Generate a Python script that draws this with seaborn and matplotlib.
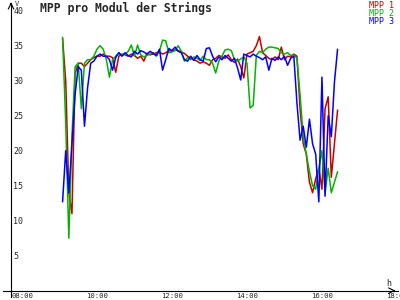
import numpy as np
import pandas as pd
import matplotlib
matplotlib.use("Agg")
import matplotlib.pyplot as plt
import seaborn as sns

# time of day in hours, 5-minute samples from 09:15 to 16:35
start_hour = 9.25
step_hours = 5 / 60

mpp1 = [36.0, 30.0, 14.0, 11.0, 31.0, 32.5, 32.5, 32.0, 32.5, 33.0,
        33.3, 33.5, 33.5, 33.8, 33.5, 33.5, 33.3, 31.2, 33.5, 33.8,
        33.7, 33.5, 33.8, 33.6, 33.2, 33.5, 32.8, 33.9, 33.7, 33.8,
        34.0, 34.1, 33.8, 34.0, 34.3, 34.2, 34.4, 34.3, 34.1, 33.9,
        33.5, 33.2, 33.0, 32.8, 32.5, 32.7, 32.5, 32.2, 33.0, 33.2,
        33.6, 33.4, 33.2, 33.7, 33.0, 32.6, 33.1, 32.0, 30.4, 33.8,
        34.0, 34.2, 35.0, 36.3, 34.0, 33.6, 33.2, 33.0, 33.4, 33.0,
        34.8, 33.0, 33.5, 33.4, 33.8, 33.5, 26.0, 21.0, 19.5, 15.5,
        14.0, 16.0, 17.5, 14.5, 26.0, 27.7, 16.2, 21.0, 25.8]
mpp2 = [36.2, 24.0, 7.5, 22.0, 32.0, 32.5, 26.0, 32.5, 33.0, 33.0,
        33.5, 34.5, 35.0, 34.5, 33.0, 30.5, 33.0, 33.5, 34.0, 33.6,
        33.8, 34.2, 35.1, 33.5, 35.1, 33.7, 33.4, 33.6, 33.8, 34.0,
        33.5, 34.2, 35.8, 35.7, 34.0, 34.1, 34.3, 35.0, 34.2, 32.8,
        33.3, 33.0, 33.4, 33.2, 32.9, 33.5, 33.0, 33.0, 32.5, 31.1,
        32.8, 33.5, 34.4, 34.5, 34.3, 33.0, 32.8, 33.1, 33.4, 32.5,
        26.1, 26.5, 33.6, 34.2, 34.0, 34.5, 34.8, 34.8, 34.7, 34.6,
        34.0, 33.8, 34.0, 33.6, 33.7, 33.2, 28.0, 22.0, 19.5, 17.0,
        15.0, 14.5, 17.5, 20.0, 14.0, 17.5, 14.0, 15.5, 17.0]
mpp3 = [12.7, 20.0, 14.0, 21.0, 28.0, 32.0, 31.5, 23.5, 29.0, 32.5,
        32.8, 33.5, 33.8, 33.5, 33.5, 33.0, 31.5, 33.3, 34.0, 33.5,
        34.0, 33.6, 33.4, 34.2, 33.8, 34.3, 34.1, 33.8, 34.2, 33.9,
        33.6, 34.5, 31.5, 33.0, 34.6, 34.3, 34.8, 34.2, 34.0, 33.0,
        32.8, 33.5, 32.9, 33.6, 33.0, 32.8, 34.6, 34.7, 33.5, 32.7,
        33.4, 33.0, 33.6, 33.2, 32.8, 33.2, 31.8, 30.1, 33.8, 33.6,
        33.4, 33.8, 33.5, 33.3, 33.0, 33.4, 31.5, 33.2, 32.9, 33.4,
        33.0, 33.5, 32.2, 33.2, 33.5, 26.8, 21.5, 23.5, 20.5, 24.5,
        21.0, 19.5, 12.7, 30.5, 13.5, 25.0, 22.0, 29.8, 34.5]

series_names = ["MPP 1", "MPP 2", "MPP 3"]
colors = ["#c80000", "#00b400", "#0000ff"]
x_tick_hours = [8, 10, 12, 14, 16, 18]
x_tick_labels = ["08:00", "10:00", "12:00", "14:00", "16:00", "18:00"]
y_ticks = [5, 10, 15, 20, 25, 30, 35, 40]
title = "MPP pro Modul der Strings"

hours = start_hour + step_hours * np.arange(len(mpp1))
df = pd.concat([
    pd.DataFrame({"hour": hours, "value": vals, "series": name})
    for name, vals in zip(series_names, [mpp1, mpp2, mpp3])
])

sns.set_style("white")
plt.rcParams["font.family"] = ["DejaVu Sans Mono", "DejaVu Sans"]

fig = plt.figure(figsize=(4, 3), dpi=100)
ax = fig.add_axes([3 / 400, 3 / 300, 395 / 400, 294 / 300])

sns.lineplot(data=df, x="hour", y="value", hue="series",
             palette=colors, linewidth=1.1, legend=False, ax=ax,
             estimator=None)

ax.set_xlim(7.661, 18.195)
ax.set_ylim(-0.9, 41.1)
ax.set_xlabel("")
ax.set_ylabel("")
for s in ["top", "right"]:
    ax.spines[s].set_visible(False)
ax.spines["left"].set_position(("data", 7.875))
ax.spines["bottom"].set_position(("data", 0))
for s in ["left", "bottom"]:
    ax.spines[s].set_color("black")
    ax.spines[s].set_linewidth(0.8)

ax.set_xticks(x_tick_hours)
ax.set_xticklabels([])
ax.tick_params(axis="x", direction="inout", length=4.5, width=0.8)
for h, lab in zip(x_tick_hours, x_tick_labels):
    ax.annotate(lab, xy=(h, 0), xytext=(-3.0, -1.4), textcoords="offset points",
                fontsize=5.2, ha="left", va="top", annotation_clip=False)

ax.set_yticks(y_ticks)
ax.set_yticklabels([])
ax.tick_params(axis="y", direction="inout", length=4.5, width=0.8)
for v in y_ticks:
    ax.annotate(str(v), xy=(7.875, v), xytext=(1.6, -0.3), textcoords="offset points",
                fontsize=6, ha="left", va="center")

# axis arrows
ax.annotate("", xy=(18.2, 0), xytext=(18.0, 0),
            arrowprops=dict(arrowstyle="->", lw=0.8, color="black"),
            annotation_clip=False)
ax.annotate("", xy=(7.875, 41.6), xytext=(7.875, 40.5),
            arrowprops=dict(arrowstyle="->", lw=0.8, color="black"),
            annotation_clip=False)

fig.text(15 / 400, 1 - 4 / 300, "V", fontsize=5, ha="left", va="center")
fig.text(386 / 400, 1 - 283 / 300, "h", fontsize=6, ha="left", va="center")

fig.text(40 / 400, 1 - 8 / 300, title, fontsize=8.3, fontweight="bold",
         ha="left", va="center")
for i, (name, c) in enumerate(zip(series_names, colors)):
    fig.text(394 / 400, 1 - (5.5 + 8 * i) / 300, name, fontsize=6, color=c,
             ha="right", va="center")

fig.savefig("out.png", dpi=100)
